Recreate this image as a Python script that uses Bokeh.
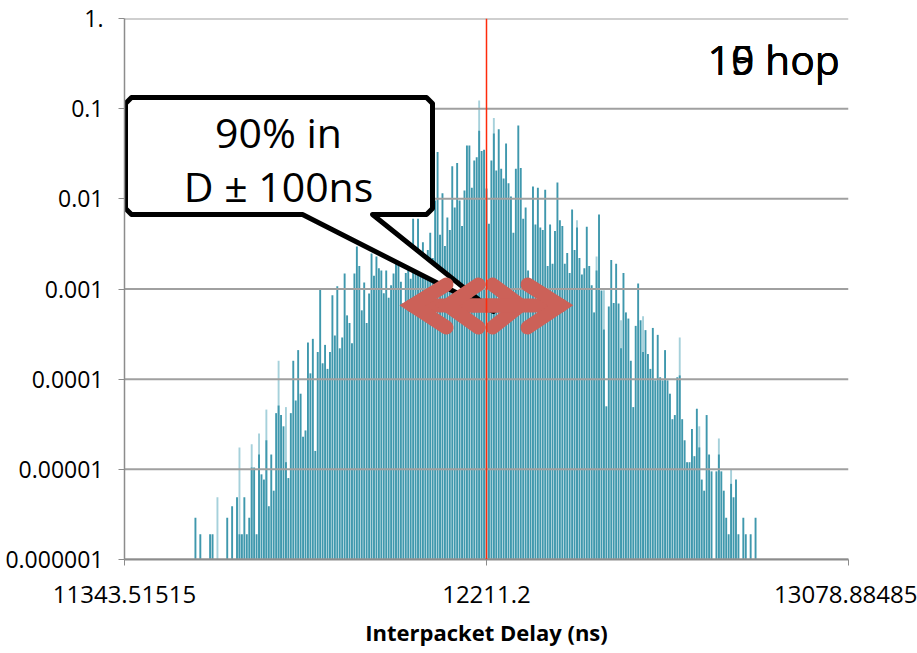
from bokeh.plotting import figure
from bokeh.models import Range1d, FixedTicker, CustomJSTickFormatter, Span
from bokeh.core.properties import value
from bokeh.embed import file_html
from bokeh.resources import INLINE

# ---------------- data ----------------
n_bins = 297            # category slots on the x axis
first_bin = 29          # slot of the first value in `dark`
dark = [
    2.9e-6, 0, 1.9e-6, 0, 0, 0, 1.9e-6, 1.9e-6, 0, 0,
    0, 0, 0, 2.9e-6, 0, 3.9e-6, 0, 4.9e-6, 1.9e-6, 1.9e-6,
    4.9e-6, 1.9e-6, 2.9e-6, 1.05e-5, 1.05e-5, 1.9e-6, 1.46e-5, 8.8e-6, 7.7e-6, 2.1e-5,
    3.9e-6, 1.46e-5, 5.8e-6, 4.2e-5, 5.1e-5, 4.0e-5, 3.0e-5, 1.2e-5, 8.0e-6, 4.2e-5,
    1.6e-4, 5.8e-5, 2.1e-4, 6.9e-5, 2.3e-5, 2.7e-5, 2.55e-4, 1.16e-4, 2.8e-4, 1.6e-5,
    2.0e-4, 9.9e-4, 1.5e-4, 2.4e-4, 1.3e-4, 2.0e-4, 8.5e-4, 3.05e-4, 1.07e-3, 2.2e-4,
    2.9e-4, 1.49e-3, 5.1e-4, 4.2e-4, 2.5e-4, 1.49e-3, 2.96e-3, 1.8e-3, 5.8e-4, 1.18e-3,
    4.2e-4, 8.9e-4, 2.48e-3, 1.4e-3, 2.3e-3, 1.7e-3, 1.6e-3, 9.0e-4, 1.6e-3, 8.0e-4,
    1.1e-3, 1.49e-3, 1.9e-3, 2.5e-3, 1.2e-3, 7.0e-4, 1.5e-3, 2.2e-3, 1.3e-3, 6.0e-3,
    1.8e-3, 6.0e-3, 2.4e-3, 3.3e-3, 1.5e-3, 2.7e-3, 4.2e-3, 2.2e-3, 9.6e-3, 3.3e-2,
    4.0e-3, 1.15e-2, 3.0e-3, 6.2e-3, 4.5e-3, 2.3e-2, 8.0e-3, 2.5e-2, 9.6e-3, 5.0e-3,
    1.24e-2, 3.9e-2, 3.9e-2, 1.33e-2, 2.66e-2, 2.9e-2, 5.7e-2, 3.4e-2, 3.5e-2, 1.3e-2,
    5.3e-3, 2.66e-2, 5.3e-2, 2.06e-2, 5.9e-2, 2.15e-2, 1.68e-2, 4.1e-2, 1.49e-2, 1.06e-2,
    4.2e-3, 2.15e-2, 6.5e-2, 2.2e-2, 6.0e-3, 8.0e-3, 1.6e-3, 1.2e-3, 1.37e-2, 5.2e-3,
    1.33e-2, 4.8e-3, 4.5e-3, 1.26e-2, 1.8e-3, 5.2e-3, 1.9e-3, 4.4e-3, 1.52e-2, 5.8e-3,
    5.0e-3, 1.9e-3, 2.5e-3, 1.5e-3, 7.6e-3, 2.7e-3, 4.8e-3, 2.2e-3, 1.45e-3, 1.7e-3,
    4.9e-3, 1.8e-3, 1.1e-3, 5.5e-4, 1.6e-3, 6.7e-3, 9.6e-4, 3.55e-4, 5.0e-5, 6.4e-4,
    2.1e-3, 7.0e-4, 1.9e-3, 6.9e-4, 2.2e-4, 1.5e-3, 5.5e-4, 4.7e-4, 1.6e-4, 4.9e-5,
    3.9e-4, 1.15e-3, 4.5e-4, 2.0e-4, 3.5e-4, 1.9e-4, 1.3e-4, 3.7e-4, 9.7e-5, 3.1e-4,
    1.05e-4, 9.7e-5, 2.1e-4, 9.7e-5, 6.9e-5, 3.6e-5, 4.0e-5, 1.05e-4, 1.1e-4, 3.6e-5,
    2.1e-5, 1.2e-5, 1.2e-5, 2.8e-5, 1.4e-5, 4.7e-5, 1.75e-5, 7.7e-6, 5.8e-6, 4.0e-5,
    1.46e-5, 9.5e-6, 0, 9.5e-6, 1.46e-5, 9.5e-6, 5.8e-6, 2.9e-6, 1.9e-6, 6.9e-6,
    4.9e-6, 7.7e-6, 1.9e-6, 0, 2.9e-6, 1.9e-6, 0, 1.9e-6, 0, 2.9e-6,
]
light_bins = [38, 47, 52, 55, 58, 63, 66, 145, 151, 185, 193, 196, 203, 212, 227, 235, 243, 248]
light_vals = [4.9e-6, 1.75e-5, 1.9e-5, 2.5e-5, 4.6e-5, 1.6e-4, 4.9e-5, 0.123, 7.9e-2,
              5.8e-3, 2.3e-3, 9.7e-4, 4.5e-4, 5.0e-4, 2.9e-4, 3.0e-5, 2.2e-5, 1.0e-5]

xtick_bins = [0, 148, 296]
xtick_labels = ["11343.51515", "12211.2", "13078.88485"]
ytick_vals = [1, 0.1, 0.01, 0.001, 0.0001, 0.00001, 0.000001]
ytick_labels = ["1.", "0.1", "0.01", "0.001", "0.0001", "0.00001", "0.000001"]
target_bin = 148
x_title = "Interpacket Delay (ns)"
callout_lines = ["90% in", "D \u00b1 100ns"]
hop_labels = ["10 hop", "15 hop", "19 hop"]

# ---------------- layout ----------------
W, H = 917, 653
L, R, T, B = 124, 69, 18, 94
FW, FH = W - L - R, H - T - B
YMIN, YMAX = 1e-6, 1.0
FONT = "Open Sans"


def px_x(px):
    return (px - L) / FW * (n_bins - 1)


def px_y(py):
    return 10 ** (-6 * (py - T) / FH)


p = figure(width=W, height=H, x_range=Range1d(0, n_bins - 1), y_range=Range1d(YMIN, YMAX),
           y_axis_type="log", output_backend="svg", toolbar_location=None,
           min_border_left=L, min_border_right=R, min_border_top=T, min_border_bottom=B)
p.outline_line_color = None
p.background_fill_color = "white"
p.border_fill_color = "white"
p.xgrid.visible = False
p.ygrid.visible = False

# bars
p.vbar(x=light_bins, top=light_vals, bottom=YMIN, width=0.78,
       fill_color="#A6D1DB", line_color=None)
dx = [first_bin + i for i, v in enumerate(dark) if v > 0]
dy = [v for v in dark if v > 0]
p.vbar(x=dx, top=dy, bottom=YMIN, width=0.78, fill_color="#3F98AD", line_color=None)

# grid lines over the bars
p.segment(x0=[0] * len(ytick_vals), x1=[n_bins - 1] * len(ytick_vals),
          y0=ytick_vals, y1=ytick_vals, line_color="#A0A0A0", line_width=2)

# axes
fmt_code = """
let best = 0, d = 1e9;
for (let i = 0; i < vals.length; i++) {
  const e = Math.abs(%s);
  if (e < d) { d = e; best = i; }
}
return labels[best];
"""
p.yaxis.ticker = FixedTicker(ticks=ytick_vals, minor_ticks=[])
p.yaxis.formatter = CustomJSTickFormatter(
    args=dict(vals=ytick_vals, labels=ytick_labels),
    code=fmt_code % "Math.log10(vals[i]) - Math.log10(tick)")
p.xaxis.ticker = FixedTicker(ticks=xtick_bins, minor_ticks=[])
p.xaxis.formatter = CustomJSTickFormatter(
    args=dict(vals=xtick_bins, labels=xtick_labels),
    code=fmt_code % "vals[i] - tick")

for ax in (p.xaxis[0], p.yaxis[0]):
    ax.major_label_text_font = FONT
    ax.major_label_text_color = "black"
    ax.axis_line_color = "#8C8C8C"
    ax.major_tick_line_color = "#8C8C8C"
    ax.major_tick_out = 6
    ax.major_tick_in = 0
    ax.minor_tick_line_color = None
p.xaxis.major_label_text_font_size = "24px"
p.yaxis.major_label_text_font_size = "23px"
p.xaxis.axis_line_width = 2
p.yaxis.axis_line_width = 1.5
p.yaxis.major_label_standoff = 15
p.xaxis.major_label_standoff = 20
p.xaxis.axis_label = x_title
p.xaxis.axis_label_text_font = FONT
p.xaxis.axis_label_text_font_style = "bold"
p.xaxis.axis_label_text_font_size = "22px"
p.xaxis.axis_label_text_color = "black"
p.xaxis.axis_label_standoff = 11

# callout (box + pointer as one outline)
call_px = [(131, 97), (426, 97), (432, 103), (432, 208), (426, 214), (372, 214),
           (493, 311), (302, 214), (131, 214), (125, 208), (125, 103)]
p.patch(x=[px_x(a) for a, b in call_px], y=[px_y(b) for a, b in call_px],
        fill_color="white", line_color="black", line_width=5, line_join="round")
p.text(x=[px_x(278), px_x(278)], y=[px_y(131), px_y(185)], text=callout_lines,
       text_align="center", text_baseline="alphabetic",
       text_font=value(FONT), text_font_size="41px", text_color="black")

# double arrows (two overlapping copies)
arrows_px = [
    [(412, 305), (520, 305)], [(446, 284), (412, 305), (446, 327)], [(492, 284), (520, 305), (492, 327)],
    [(447, 305), (560, 305)], [(478, 284), (447, 305), (478, 327)], [(527, 284), (560, 305), (527, 327)],
]
p.multi_line(xs=[[px_x(a) for a, b in seg] for seg in arrows_px],
             ys=[[px_y(b) for a, b in seg] for seg in arrows_px],
             line_color="#CC6158", line_width=14, line_cap="round", line_join="miter")

# hop labels (overlapping)
p.text(x=[px_x(707)] * len(hop_labels), y=[px_y(58)] * len(hop_labels), text=hop_labels,
       text_align="left", text_baseline="alphabetic",
       text_font=value(FONT), text_font_size="41px", text_color="black")

# target delay line
p.add_layout(Span(location=target_bin, dimension="height", line_color="#FF2A0A", line_width=1.5))

open("out.html", "w").write(file_html(p, INLINE))
